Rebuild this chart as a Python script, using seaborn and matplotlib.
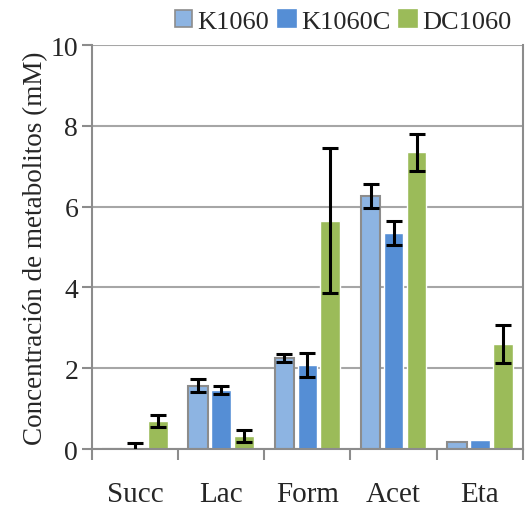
import matplotlib
matplotlib.use("Agg")
import matplotlib.pyplot as plt
import seaborn as sns
import pandas as pd
import numpy as np
from matplotlib.patches import Patch

categories = ["Succ", "Lac", "Form", "Acet", "Eta"]
series = ["K1060", "K1060C", "DC1060"]
k1060 = [0.01, 1.57, 2.26, 6.27, 0.17]
k1060c = [0.05, 1.46, 2.08, 5.35, 0.22]
dc1060 = [0.69, 0.32, 5.65, 7.34, 2.60]
k1060_err = [0.0, 0.16, 0.10, 0.30, 0.0]
k1060c_err = [0.10, 0.09, 0.30, 0.29, 0.0]
dc1060_err = [0.15, 0.15, 1.80, 0.45, 0.48]
yticks = [0, 2, 4, 6, 8, 10]

colors = {"K1060": "#8DB4E2", "K1060C": "#558ED5", "DC1060": "#9BBB59"}

rows = []
for s, vals in zip(series, [k1060, k1060c, dc1060]):
    for c, v in zip(categories, vals):
        rows.append({"cat": c, "series": s, "val": v})
df = pd.DataFrame(rows)

sns.set_theme(style="white")
plt.rcParams["font.family"] = ["Liberation Serif", "DejaVu Serif"]

fig = plt.figure(figsize=(5.27, 5.10), dpi=100)
ax = fig.add_axes([0.1746, 0.1176, 0.8174, 0.7922])

sns.barplot(data=df, x="cat", y="val", hue="series", order=categories,
            hue_order=series, palette=colors, width=0.8, gap=0.14,
            errorbar=None, ax=ax, legend=False, saturation=1)

errs = {"K1060": k1060_err, "K1060C": k1060c_err, "DC1060": dc1060_err}
vals_map = {"K1060": k1060, "K1060C": k1060c, "DC1060": dc1060}
patches = ax.patches
for si, s in enumerate(series):
    for ci in range(len(categories)):
        p = patches[si * len(categories) + ci]
        if s == "K1060":
            p.set_edgecolor("#8c8c8c")
            p.set_linewidth(1.5)
        e = errs[s][ci]
        if e > 0:
            x = p.get_x() + p.get_width() / 2
            ax.errorbar(x, vals_map[s][ci], yerr=e, fmt="none", ecolor="black",
                        elinewidth=2.2, capsize=6, capthick=2.2, zorder=5)

ax.set_ylim(0, 10)
ax.set_xlim(-0.5, 4.5)
ax.set_yticks(yticks)
ax.set_yticklabels([str(t) for t in yticks], fontsize=20)
ax.yaxis.grid(True, color="#a6a6a6", linewidth=1.5)
ax.set_axisbelow(True)
ax.set_xticks(range(len(categories)))
ax.set_xticklabels(categories, fontsize=21)
ax.set_xticks(np.arange(-0.5, 5.0, 1.0), minor=True)
ax.tick_params(axis="x", which="major", length=0, pad=23)
ax.tick_params(axis="x", which="minor", length=8, width=1.5, color="#8c8c8c", direction="out", bottom=True)
ax.tick_params(axis="y", length=7, width=1.5, color="#8c8c8c", direction="out", left=True, pad=3)
for sp in ["left", "right", "bottom", "top"]:
    ax.spines[sp].set_color("#8c8c8c")
    ax.spines[sp].set_linewidth(1.5)
ax.spines["top"].set_visible(False)
ax.set_xlabel("")
ax.set_ylabel("Concentración de metabolitos (mM)", fontsize=19.5, labelpad=2)

handles = [Patch(facecolor=colors[s], edgecolor="#8c8c8c" if s == "K1060" else colors[s],
                 linewidth=1.2) for s in series]
fig.legend(handles, series, loc="upper right", bbox_to_anchor=(1.0, 1.01), ncol=3,
           frameon=False, fontsize=19, handlelength=0.65, handleheight=0.65,
           handletextpad=0.2, columnspacing=0.35, borderaxespad=0.2)

fig.savefig("out.png", dpi=100)
